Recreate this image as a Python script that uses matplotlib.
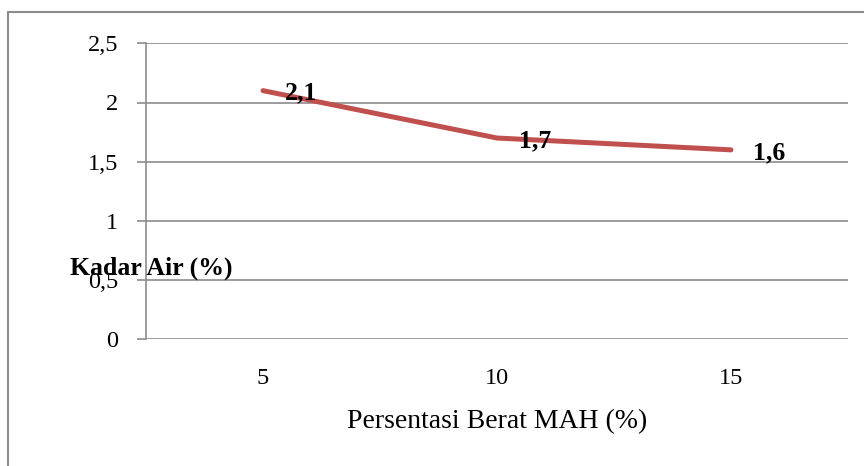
import matplotlib
matplotlib.use("Agg")
import matplotlib.pyplot as plt
from matplotlib.patches import Rectangle

categories = ["5", "10", "15"]
values = [2.1, 1.7, 1.6]
value_labels = ["2,1", "1,7", "1,6"]
yticks = [0, 0.5, 1, 1.5, 2, 2.5]
ytick_labels = ["0", "0,5", "1", "1,5", "2", "2,5"]

plt.rcParams['font.family'] = ['Liberation Serif', 'DejaVu Serif']

W, H = 864, 466
fig = plt.figure(figsize=(W/100, H/100), dpi=100)
# outer chart border
fig.patches.append(Rectangle((8/W, 0 - 0.01), 1.0, 1 - 12/H + 0.01, transform=fig.transFigure,
                             fill=False, edgecolor='#8c8c8c', linewidth=1.5))

left, right, top, bottom = 146, 848, 43.3, 339.3
ax = fig.add_axes([left/W, 1 - bottom/H, (right-left)/W, (bottom-top)/H])

x = list(range(len(categories)))
ax.plot(x, values, color='#C0504D', linewidth=3.6, solid_capstyle='round', zorder=3)
for xi, v, lab in zip(x, values, value_labels):
    ax.annotate(lab, (xi, v), xytext=(22, 0), textcoords='offset pixels',
                ha='left', va='center_baseline', fontsize=18.5, fontweight='bold',
                color='black', zorder=4)

ax.set_xlim(-0.5, 2.5)
ax.set_ylim(0, 2.5)
ax.set_yticks(yticks)
ax.set_yticklabels(ytick_labels, fontsize=17.5)
ax.set_xticks(x)
ax.set_xticklabels(categories, fontsize=17.5)
ax.tick_params(axis='x', length=0, pad=21)
ax.tick_params(axis='y', length=6.5, width=1.2, color='#8c8c8c', pad=13.5)
ax.grid(axis='y', color='#8c8c8c', linewidth=1.2)
ax.set_axisbelow(True)
for s in ['top', 'right', 'bottom']:
    ax.spines[s].set_visible(False)
ax.spines['left'].set_color('#8c8c8c')
ax.spines['left'].set_linewidth(1.2)

fig.text(151/W, 1 - 268/H, "Kadar Air (%)", ha='center', va='center', fontsize=18.5, fontweight='bold')
fig.text(497/W, 1 - 422/H, "Persentasi Berat MAH (%)", ha='center', va='center', fontsize=20)

fig.savefig("out.png", dpi=100)
